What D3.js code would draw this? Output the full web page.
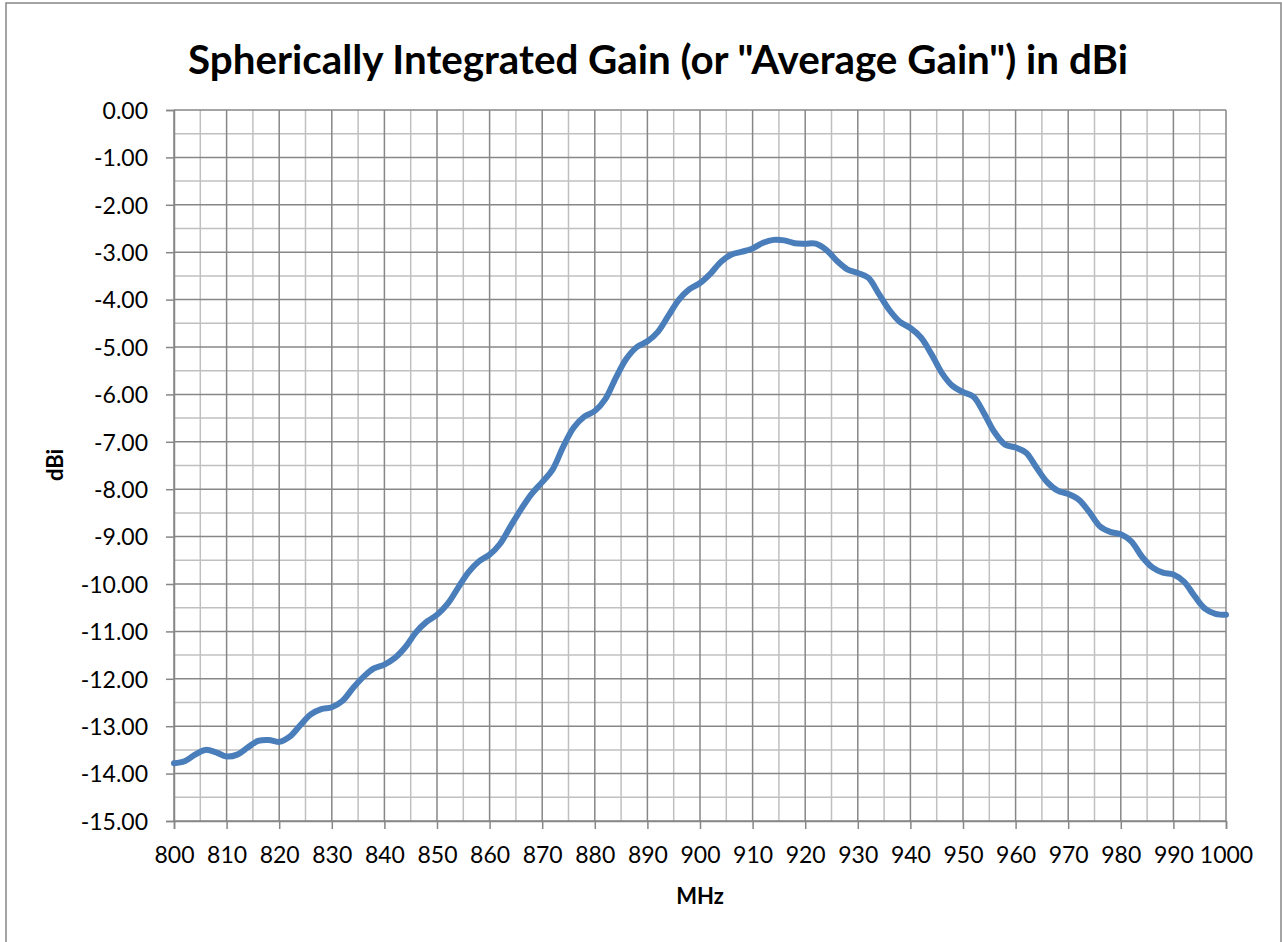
<!DOCTYPE html>
<html>
<head>
<meta charset="utf-8">
<script src="https://cdn.jsdelivr.net/npm/d3@7"></script>
<style>
  html, body { margin: 0; padding: 0; background: #fff; }
  svg text { font-family: Lato, "Liberation Sans", sans-serif; fill: #000; }
</style>
</head>
<body>
<svg id="chart" width="1282" height="942"></svg>
<script>
// ---- data ----
const chartTitle = 'Spherically Integrated Gain (or "Average Gain") in dBi';
const xLabel = "MHz";
const yLabel = "dBi";
const frequencyMHz = [800,802,804,806,808,810,812,814,816,818,820,822,824,826,828,830,832,834,836,838,840,842,844,846,848,850,852,854,856,858,860,862,864,866,868,870,872,874,876,878,880,882,884,886,888,890,892,894,896,898,900,902,904,906,908,910,912,914,916,918,920,922,924,926,928,930,932,934,936,938,940,942,944,946,948,950,952,954,956,958,960,962,964,966,968,970,972,974,976,978,980,982,984,986,988,990,992,994,996,998,1000];
const gainDBi = [-13.78,-13.74,-13.60,-13.50,-13.55,-13.64,-13.60,-13.45,-13.31,-13.29,-13.33,-13.22,-12.98,-12.75,-12.64,-12.60,-12.47,-12.20,-11.96,-11.78,-11.70,-11.56,-11.33,-11.02,-10.80,-10.65,-10.42,-10.08,-9.75,-9.52,-9.38,-9.15,-8.78,-8.42,-8.10,-7.85,-7.58,-7.10,-6.70,-6.47,-6.35,-6.10,-5.65,-5.25,-5.00,-4.88,-4.68,-4.34,-4.00,-3.78,-3.65,-3.45,-3.20,-3.05,-2.99,-2.92,-2.80,-2.74,-2.75,-2.81,-2.82,-2.82,-2.95,-3.18,-3.36,-3.44,-3.54,-3.88,-4.22,-4.47,-4.60,-4.80,-5.15,-5.55,-5.82,-5.95,-6.05,-6.40,-6.80,-7.06,-7.12,-7.23,-7.55,-7.85,-8.03,-8.10,-8.22,-8.48,-8.78,-8.90,-8.95,-9.10,-9.42,-9.65,-9.76,-9.80,-9.95,-10.25,-10.52,-10.63,-10.65];
const xTicks = [800,810,820,830,840,850,860,870,880,890,900,910,920,930,940,950,960,970,980,990,1000];
const xMinorTicks = [805,815,825,835,845,855,865,875,885,895,905,915,925,935,945,955,965,975,985,995];
const yTicks = [0,-1,-2,-3,-4,-5,-6,-7,-8,-9,-10,-11,-12,-13,-14,-15];
const yMinorTicks = [-0.5,-1.5,-2.5,-3.5,-4.5,-5.5,-6.5,-7.5,-8.5,-9.5,-10.5,-11.5,-12.5,-13.5,-14.5];

// ---- layout ----
const svg = d3.select("#chart");
const plot = { left: 174, right: 1226, top: 110, bottom: 821 };
const x = d3.scaleLinear().domain([800, 1000]).range([plot.left, plot.right]);
const y = d3.scaleLinear().domain([-15, 0]).range([plot.bottom, plot.top]);

// chart frame
svg.append("rect")
  .attr("x", 6).attr("y", 3).attr("width", 1275).attr("height", 960)
  .attr("fill", "#fff").attr("stroke", "#868686").attr("stroke-width", 1.5);

const grid = svg.append("g");
// minor grid
grid.selectAll("line.xm").data(xMinorTicks).join("line")
  .attr("x1", d => x(d)).attr("x2", d => x(d))
  .attr("y1", plot.top).attr("y2", plot.bottom)
  .attr("stroke", "#c0c0c0").attr("stroke-width", 1.5);
grid.selectAll("line.ym").data(yMinorTicks).join("line")
  .attr("x1", plot.left).attr("x2", plot.right)
  .attr("y1", d => y(d)).attr("y2", d => y(d))
  .attr("stroke", "#c0c0c0").attr("stroke-width", 1.5);
// major grid
grid.selectAll("line.xM").data(xTicks).join("line")
  .attr("x1", d => x(d)).attr("x2", d => x(d))
  .attr("y1", plot.top).attr("y2", plot.bottom)
  .attr("stroke", "#878787").attr("stroke-width", 1.5);
grid.selectAll("line.yM").data(yTicks).join("line")
  .attr("x1", plot.left).attr("x2", plot.right)
  .attr("y1", d => y(d)).attr("y2", d => y(d))
  .attr("stroke", "#878787").attr("stroke-width", 1.5);

// axes
const xAxis = d3.axisBottom(x).tickValues(xTicks).tickSize(8).tickPadding(18).tickFormat(d => String(d));
const gx = svg.append("g").attr("transform", `translate(0,${plot.bottom})`).call(xAxis);
gx.select(".domain").attr("stroke", "#878787").attr("stroke-width", 1.5);
gx.selectAll(".tick line").attr("stroke", "#878787").attr("stroke-width", 1.5);
gx.selectAll(".tick text").style("font-size", "23px").attr("fill", "#000");

const yAxis = d3.axisLeft(y).tickValues(yTicks).tickSize(8).tickPadding(18)
  .tickFormat(d => d.toFixed(2).replace("-0.00", "0.00"));
const gy = svg.append("g").attr("transform", `translate(${plot.left},0)`).call(yAxis);
gy.select(".domain").attr("stroke", "#878787").attr("stroke-width", 1.5);
gy.selectAll(".tick line").attr("stroke", "#878787").attr("stroke-width", 1.5);
gy.selectAll(".tick text").style("font-size", "23px").attr("fill", "#000").attr("dy", "0.36em");

// line
const data = frequencyMHz.map((f, i) => ({ f, g: gainDBi[i] }));
const line = d3.line().x(d => x(d.f)).y(d => y(d.g)).curve(d3.curveCatmullRom.alpha(0.5));
svg.append("path").datum(data)
  .attr("d", line)
  .attr("fill", "none")
  .attr("stroke", "#4a7ebb")
  .attr("stroke-width", 6)
  .attr("stroke-linejoin", "round")
  .attr("stroke-linecap", "round");

// title
const title = svg.append("text")
  .attr("x", 658).attr("y", 74)
  .attr("text-anchor", "middle")
  .style("font-size", "36px").style("font-weight", "bold")
  .text(chartTitle);
const tw = title.node().getComputedTextLength();
title.style("font-size", (36 * 940 / tw).toFixed(2) + "px");

// axis labels
svg.append("text")
  .attr("x", 700).attr("y", 904)
  .attr("text-anchor", "middle")
  .style("font-size", "22px").style("font-weight", "bold")
  .text(xLabel);
svg.append("text")
  .attr("transform", "translate(63,465) rotate(-90)")
  .attr("text-anchor", "middle")
  .style("font-size", "22px").style("font-weight", "bold")
  .text(yLabel);
</script>
</body>
</html>
